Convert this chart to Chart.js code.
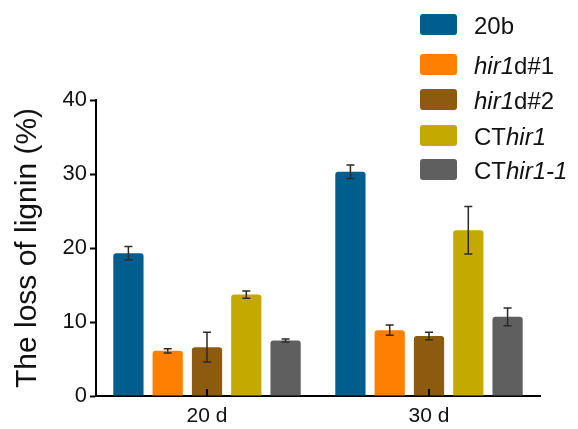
<!DOCTYPE html>
<html>
<head>
<meta charset="utf-8">
<script src="https://cdn.jsdelivr.net/npm/chart.js@4"></script>
<style>
  body { margin: 0; background: #fff; }
  #wrap { position: relative; width: 578px; height: 429px; }
  #legend { position: absolute; left: 420px; top: 0; font-family: "Liberation Sans", Arial, sans-serif; font-size: 24px; color: #111; }
  .item { position: absolute; left: 0; white-space: nowrap; height: 21px; line-height: 24px; }
  .box { display: inline-block; width: 37px; height: 21px; border-radius: 3px; vertical-align: top; margin-right: 17px; }
</style>
</head>
<body>
<div id="wrap">
  <canvas id="chart" width="578" height="429"></canvas>
  <div id="legend"></div>
</div>
<script>
const categories = ['20 d', '30 d'];
const seriesNames = ['20b', '<i>hir1</i>d#1', '<i>hir1</i>d#2', 'CT<i>hir1</i>', 'CT<i>hir1-1</i>'];
const colors = ['#005e8e', '#ff7f00', '#8c5b10', '#c4a900', '#5f5f5f'];
const means = [
    [19.3, 30.3],
    [6.1, 8.9],
    [6.6, 8.1],
    [13.7, 22.4],
    [7.5, 10.7]
];
const errors = [
    [0.9, 0.9],
    [0.3, 0.7],
    [2.0, 0.5],
    [0.5, 3.2],
    [0.2, 1.2]
];
const yTicks = [0, 10, 20, 30, 40];
const legendTops = [14, 54, 89, 125, 159];

/* ===== Legend (html, for the italics) ===== */
const legend = document.getElementById('legend');
seriesNames.forEach((name, i) => {
    const div = document.createElement('div');
    div.className = 'item';
    div.style.top = legendTops[i] + 'px';
    div.innerHTML = '<span class="box" style="background:' + colors[i] + '"></span>' + name;
    legend.appendChild(div);
});

/* ===== Error bars + inside ticks ===== */
const errorBars = {
    id: 'errorBars',
    afterDatasetsDraw(chart) {
        const c = chart.ctx;
        const y = chart.scales.y;
        c.save();
        c.strokeStyle = '#2a2a2a';
        c.lineWidth = 1.5;
        chart.data.datasets.forEach((ds, i) => {
            const meta = chart.getDatasetMeta(i);
            meta.data.forEach((bar, j) => {
                const v = ds.data[j], e = errors[i][j];
                const top = y.getPixelForValue(v + e);
                const bot = y.getPixelForValue(v - e);
                c.beginPath();
                c.moveTo(bar.x, top); c.lineTo(bar.x, bot);
                c.moveTo(bar.x - 4, top); c.lineTo(bar.x + 4, top);
                c.moveTo(bar.x - 4, bot); c.lineTo(bar.x + 4, bot);
                c.stroke();
            });
        });
        // x ticks pointing up at the group centres
        const x = chart.scales.x;
        c.strokeStyle = '#000';
        c.lineWidth = 2;
        categories.forEach((cat, k) => {
            const px = x.getPixelForValue(k);
            c.beginPath();
            c.moveTo(px, chart.chartArea.bottom);
            c.lineTo(px, chart.chartArea.bottom - 7);
            c.stroke();
        });
        c.restore();
    }
};

new Chart(document.getElementById('chart'), {
    type: 'bar',
    data: {
        labels: categories,
        datasets: means.map((m, i) => ({
            label: seriesNames[i],
            data: m,
            backgroundColor: colors[i],
            borderRadius: 3,
            borderSkipped: 'bottom',
            barPercentage: 0.77,
            categoryPercentage: 0.885
        }))
    },
    options: {
        responsive: false,
        animation: false,
        layout: { padding: { top: 100, right: 38, left: 0, bottom: 0 } },
        plugins: { legend: { display: false }, tooltip: { enabled: false } },
        scales: {
            x: {
                grid: { display: false, drawTicks: false },
                border: { color: '#000', width: 2 },
                ticks: { color: '#111', font: { family: 'Liberation Sans', size: 21 }, padding: 8 },
                afterFit(scale) { scale.height = 33; }
            },
            y: {
                min: 0, max: 40,
                afterBuildTicks(scale) { scale.ticks = yTicks.map(v => ({ value: v })); },
                grid: { drawOnChartArea: false, tickLength: 6, tickWidth: 2, color: '#000' },
                border: { color: '#000', width: 2 },
                ticks: { color: '#111', font: { family: 'Liberation Sans', size: 22 }, padding: 3 },
                title: {
                    display: true,
                    text: 'The loss of lignin (%)',
                    color: '#111',
                    font: { family: 'Liberation Sans', size: 30 },
                    padding: { top: 10, bottom: 0 }
                },
                afterFit(scale) { scale.width = 96; }
            }
        }
    },
    plugins: [errorBars]
});
</script>
</body>
</html>
